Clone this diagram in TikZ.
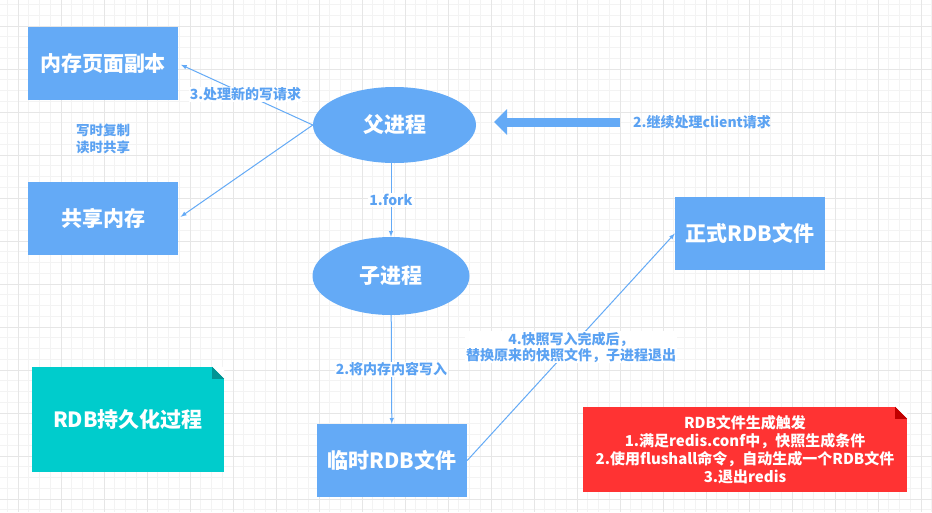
\documentclass[tikz,border=0pt]{standalone}
\usepackage{fontspec}
\setmainfont{Noto Sans CJK SC}
\usetikzlibrary{arrows,arrows.meta,positioning,shapes,calc}
\definecolor{boxblue}{HTML}{64AAF6}
\definecolor{textblue}{HTML}{5BA2F2}
\definecolor{noteteal}{HTML}{00CCCC}
\definecolor{foldteal}{HTML}{009494}
\definecolor{notered}{HTML}{FF3333}
\definecolor{foldred}{HTML}{C00000}
\definecolor{minorgrid}{HTML}{F3F3F3}
\definecolor{majorgrid}{HTML}{E6E6E6}
\tikzstyle{memory}=[rectangle, fill=boxblue, text=white, inner sep=0pt, minimum width=150pt, minimum height=73pt, font=\bfseries\fontsize{21}{25}\selectfont]
\tikzstyle{process}=[ellipse, fill=boxblue, text=white, inner sep=0pt, font=\bfseries\fontsize{21}{25}\selectfont]
\tikzstyle{notebox}=[rectangle, text=white, inner sep=0pt, align=center]
\tikzstyle{steplabel}=[fill=white, text=textblue, inner sep=1pt, align=center, font=\bfseries\fontsize{14}{16}\selectfont]
\tikzstyle{connect}=[-latex, draw=boxblue, line width=1pt]

\begin{document}
\begin{tikzpicture}[x=1pt, y=-1pt]
  \useasboundingbox (0,0) rectangle (932,512);
  \fill[white] (0,0) rectangle (932,512);
  % grid
  \foreach \i in {0,...,86} \draw[minorgrid, line width=1pt] ({7.25+\i*10.75},0) -- ++(0,512);
  \foreach \i in {0,...,47} \draw[minorgrid, line width=1pt] (0,{4.5+\i*10.75}) -- ++(932,0);
  \foreach \i in {0,...,21} \draw[majorgrid, line width=1pt] ({18+\i*43},0) -- ++(0,512);
  \foreach \i in {0,...,11} \draw[majorgrid, line width=1pt] (0,{26+\i*43}) -- ++(932,0);

  \node[memory] (copy) at (103,63.5) {内存页面副本};
  \node[memory] (shared) at (103,218.5) {共享内存};
  \node[steplabel, fill=none, font=\bfseries\fontsize{13.5}{17}\selectfont] (cow) at (103,139) {写时复制\\读时共享};
  \node[process, minimum width=163pt, minimum height=76pt] (parent) at (394.5,125) {父进程};
  \node[process, minimum width=157pt, minimum height=78pt] (child) at (391,276) {子进程};
  \node[memory] (final) at (750,233.5) {正式RDB文件};
  \node[memory] (temp) at (392,460.5) {临时RDB文件};
  \node[steplabel, fill=none] (clientlabel) at (702,122) {2.继续处理client请求};
  \coordinate (clienttail) at (620,122);
  \coordinate (clienthead) at (494,122);

  \node[notebox, fill=noteteal, minimum width=192pt, minimum height=105pt, font=\bfseries\fontsize{21}{25}\selectfont] (title) at (128,419.5) {RDB持久化过程};
  \node[notebox, fill=notered, minimum width=324pt, minimum height=85pt, font=\bfseries\fontsize{15}{18}\selectfont] (trigger) at (745,449.5) {RDB文件生成触发\\1.满足redis.conf中，快照生成条件\\2.使用flushall命令，自动生成一个RDB文件\\3.退出redis};

  % folded corners
  \foreach \n/\c in {title/foldteal, trigger/foldred} {
    \fill[white] ([xshift=-12pt]\n.north east) -- (\n.north east) -- ([yshift=-12pt]\n.north east) -- cycle;
    \fill[\c] ([xshift=-12pt]\n.north east) -- ([yshift=-12pt]\n.north east) -- ([xshift=-12pt,yshift=-12pt]\n.north east) -- cycle;
  }

  \draw[-{Triangle[length=13pt,width=25pt]}, line width=9pt, boxblue] (clienttail) -- (clienthead);

  \path (parent.west) edge [connect, shorten >=3pt] node [steplabel]{3.处理新的写请求} (copy.east)
        (parent.west) edge [connect, shorten >=3pt] (shared.east)
        (child |- parent.south) edge [connect] node [steplabel]{1.fork} (child)
        (child) edge [connect] node [steplabel]{2.将内存内容写入} (temp)
        (temp.east) edge [connect] node [steplabel]{4.快照写入完成后，\\替换原来的快照文件，子进程退出} (final.west);
\end{tikzpicture}
\end{document}
